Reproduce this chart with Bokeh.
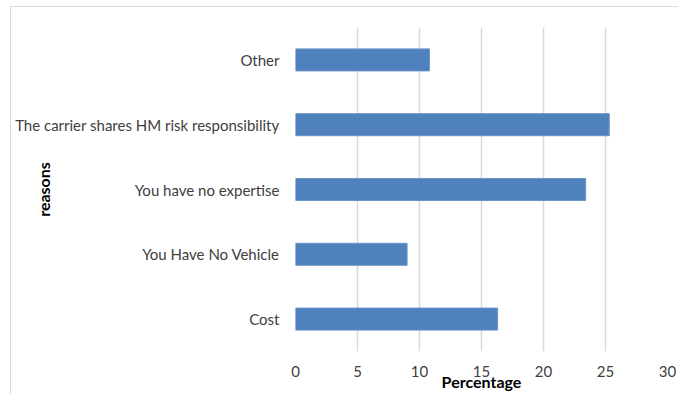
from bokeh.plotting import figure
from bokeh.models import FactorRange, Range1d, FixedTicker
from bokeh.embed import file_html
from bokeh.resources import INLINE

# data (bottom to top)
categories = ["Cost", "You Have No Vehicle", "You have no expertise",
              "The carrier shares HM risk responsibility", "Other"]
percentages = [16.3, 9.0, 23.4, 25.3, 10.8]
x_ticks = [0, 5, 10, 15, 20, 25, 30]

FONT = "Lato"
BAR = "#4f81bd"
GRID = "#d9d9d9"
TXT = "#404040"

p = figure(width=678, height=394, y_range=FactorRange(*categories),
           x_range=Range1d(0, 30), output_backend="svg", toolbar_location=None,
           min_border_left=295, min_border_right=11, min_border_top=27,
           min_border_bottom=43)
p.outline_line_color = None
p.border_fill_color = None
p.background_fill_color = "white"
p.styles = {
    "background": ("linear-gradient(#d9d9d9, #d9d9d9) 10px 6px / 1px 100% no-repeat, "
                   "linear-gradient(#d9d9d9, #d9d9d9) 10px 6px / 100% 1px no-repeat, "
                   "white"),
}

p.hbar(y=categories, right=percentages, left=0, height=0.34,
       fill_color=BAR, line_color="#6a94c6", line_width=1)

p.xaxis.ticker = FixedTicker(ticks=x_ticks)
p.xgrid.ticker = FixedTicker(ticks=x_ticks)
p.xgrid.grid_line_color = GRID
p.xgrid.grid_line_width = 1.5
p.ygrid.grid_line_color = None

for ax in (p.xaxis[0], p.yaxis[0]):
    ax.axis_line_color = None
    ax.major_tick_line_color = None
    ax.minor_tick_line_color = None
    ax.major_tick_out = 0
    ax.major_tick_in = 0
    ax.major_label_text_font = FONT
    ax.major_label_text_font_size = "15px"
    ax.major_label_text_color = TXT
    ax.axis_label_text_font = FONT
    ax.axis_label_text_font_size = "16px"
    ax.axis_label_text_font_style = "bold"
    ax.axis_label_text_color = "#000000"

p.yaxis.major_label_standoff = 16
p.xaxis.major_label_standoff = 14

p.xaxis.axis_label = "Percentage"
p.xaxis.axis_label_standoff = -8
p.yaxis.axis_label = "reasons"
p.yaxis.axis_label_standoff = -41

open("out.html", "w").write(file_html(p, INLINE))
